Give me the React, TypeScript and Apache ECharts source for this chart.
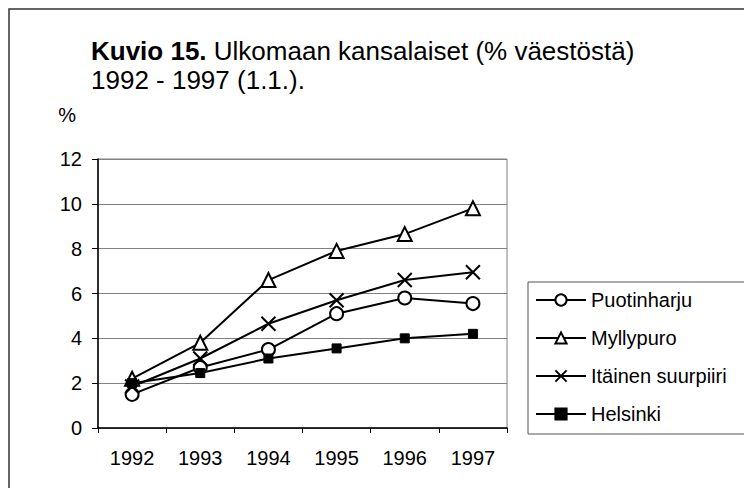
import React, { useEffect, useRef } from "react";
import * as echarts from "echarts";

const years = ["1992", "1993", "1994", "1995", "1996", "1997"];
const puotinharju = [1.5, 2.7, 3.5, 5.1, 5.8, 5.55];
const myllypuro = [2.2, 3.8, 6.6, 7.9, 8.65, 9.8];
const itainen = [1.85, 3.1, 4.65, 5.7, 6.6, 6.95];
const helsinki = [2.0, 2.45, 3.1, 3.55, 4.0, 4.2];

const FONT = "'Liberation Sans', Arial, sans-serif";

export default function App() {
  const ref = useRef<HTMLDivElement>(null);
  useEffect(() => {
    if (!ref.current) return;
    const chart = echarts.init(ref.current, undefined, { renderer: "svg" });
    const lineStyle = { color: "#000", width: 2 };
    chart.setOption({
      animation: false,
      backgroundColor: "#fff",
      textStyle: { fontFamily: FONT, color: "#000" },
      title: {
        left: 91,
        top: 36,
        padding: 0,
        text: "{b|Kuvio 15.} Ulkomaan kansalaiset (% väestöstä)\n1992 - 1997 (1.1.).",
        textStyle: {
          fontFamily: FONT,
          fontSize: 26,
          fontWeight: "normal",
          color: "#000",
          lineHeight: 29,
          rich: {
            b: { fontFamily: FONT, fontSize: 26, fontWeight: "bold", color: "#000", lineHeight: 29 },
          },
        },
      },
      grid: {
        left: 98,
        top: 159,
        width: 409,
        height: 269,
        show: true,
        borderColor: "#808080",
        borderWidth: 1,
        backgroundColor: "transparent",
      },
      legend: {
        orient: "vertical",
        left: 535,
        top: 290,
        itemWidth: 50,
        itemHeight: 14,
        itemGap: 18,
        padding: 0,
        textStyle: { fontFamily: FONT, fontSize: 20, color: "#000", lineHeight: 20 },
        data: ["Puotinharju", "Myllypuro", "Itäinen suurpiiri", "Helsinki"],
      },
      xAxis: {
        type: "category",
        data: years,
        boundaryGap: true,
        axisLine: { show: true, lineStyle: { color: "#000", width: 1.5 } },
        axisTick: { show: true, length: 5, lineStyle: { color: "#000" } },
        axisLabel: { fontFamily: FONT, fontSize: 20, color: "#000", margin: 20 },
        splitLine: { show: false },
      },
      yAxis: {
        type: "value",
        min: 0,
        max: 12,
        interval: 2,
        name: "%",
        nameLocation: "end",
        nameGap: 34,
        nameTextStyle: { fontFamily: FONT, fontSize: 20, color: "#000", align: "right", padding: [0, 22, 0, 0] },
        axisLine: { show: true, lineStyle: { color: "#000", width: 1.5 } },
        axisTick: { show: true, length: 6, lineStyle: { color: "#000" } },
        axisLabel: { fontFamily: FONT, fontSize: 20, color: "#000", margin: 16 },
        splitLine: { show: true, lineStyle: { color: "#808080", width: 1 } },
      },
      graphic: [
        {
          type: "rect",
          shape: { x: 9, y: 9, width: 800, height: 600 },
          style: { fill: "none", stroke: "#333", lineWidth: 1.5 },
          silent: true,
        },
        {
          type: "rect",
          shape: { x: 528, y: 282, width: 300, height: 152 },
          style: { fill: "none", stroke: "#555", lineWidth: 1 },
          silent: true,
        },
      ],
      series: [
        {
          name: "Puotinharju",
          type: "line",
          data: puotinharju,
          symbol: "circle",
          symbolSize: 13,
          lineStyle,
          itemStyle: { color: "#fff", borderColor: "#000", borderWidth: 2 },
        },
        {
          name: "Myllypuro",
          type: "line",
          data: myllypuro,
          symbol: "triangle",
          symbolSize: 14,
          lineStyle,
          itemStyle: { color: "#fff", borderColor: "#000", borderWidth: 2 },
        },
        {
          name: "Itäinen suurpiiri",
          type: "line",
          data: itainen,
          symbol: "path://M0,0L10,10M10,0L0,10",
          symbolSize: 14,
          lineStyle,
          itemStyle: { color: "#000", borderColor: "#000", borderWidth: 2 },
        },
        {
          name: "Helsinki",
          type: "line",
          data: helsinki,
          symbol: "rect",
          symbolSize: 9,
          lineStyle,
          itemStyle: { color: "#000", borderColor: "#000", borderWidth: 1 },
        },
      ],
    });
    return () => chart.dispose();
  }, []);
  return (
    <div
      ref={ref}
      style={{ position: "fixed", left: 0, top: 0, width: 744, height: 488, background: "#fff" }}
    />
  );
}
